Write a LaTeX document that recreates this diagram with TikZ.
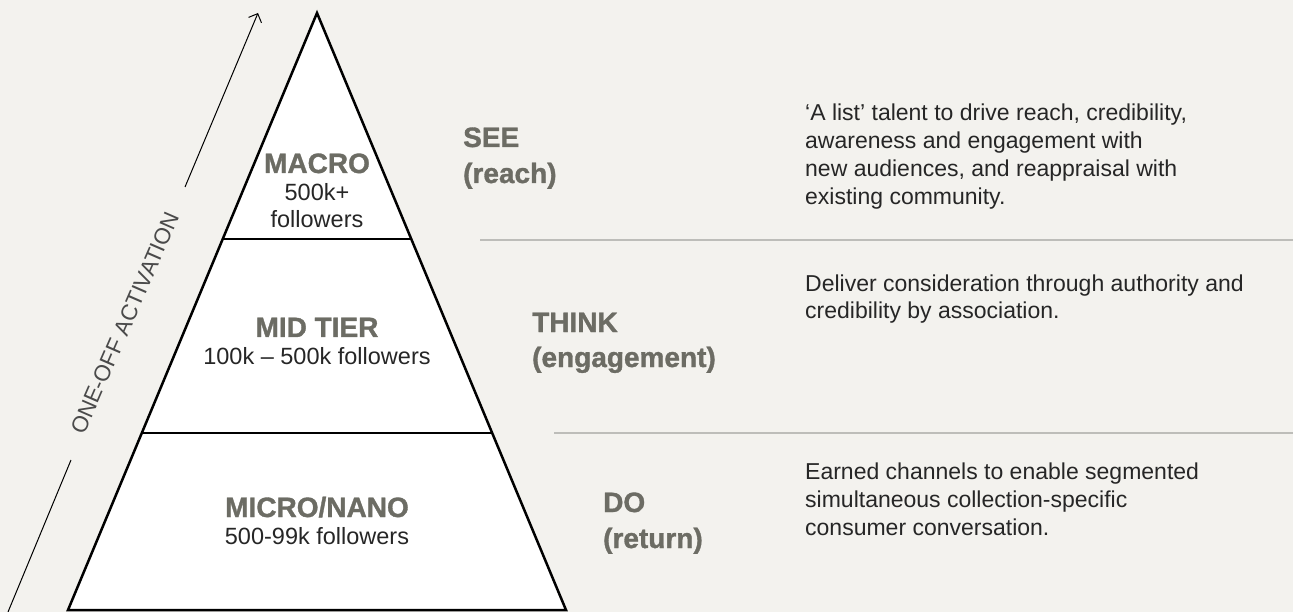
\documentclass[tikz,border=0pt]{standalone}
\usepackage{fontspec}
\setmainfont{Liberation Sans}
\newfontfamily\heavyfont{Liberation Sans}[BoldFeatures={FakeBold=1.2}]
\usetikzlibrary{arrows.meta,calc}
\definecolor{bgc}{HTML}{F3F2EE}
\definecolor{labc}{HTML}{6C6C64}
\definecolor{txtc}{HTML}{262626}
\definecolor{sepc}{HTML}{BDBDB9}
\definecolor{actc}{HTML}{4A4A4A}
\begin{document}
\begin{tikzpicture}[x=1pt,y=-1pt,
  heavy/.style={font=\heavyfont\bfseries\fontsize{28}{35}\selectfont, text=labc, inner sep=0pt},
  tiersub/.style={font=\fontsize{23.5}{27}\selectfont, text=txtc, inner sep=0pt, align=center, anchor=base},
  desc/.style={font=\fontsize{23}{28}\selectfont, text=txtc, inner sep=0pt, align=left, anchor=base west},
  outline/.style={line width=2.5pt, line join=miter},
  divider/.style={line width=1.6pt},
  sepline/.style={draw=sepc, line width=1.5pt},
  thinarrow/.style={line width=1pt, -{Straight Barb[length=7pt,width=14pt]}}
]
\useasboundingbox[fill=bgc] (0,0) rectangle (1293,612);

% pyramid
\coordinate (A) at (317,13);
\coordinate (BL) at (68,610);
\coordinate (BR) at (566,610);
\filldraw[fill=white, outline] (A) -- (BR) -- (BL) -- cycle;
\coordinate (L1) at ($(A)!0.3786!(BL)$);
\coordinate (R1) at ($(A)!0.3786!(BR)$);
\coordinate (L2) at ($(A)!0.7035!(BL)$);
\coordinate (R2) at ($(A)!0.7035!(BR)$);
\draw[divider] (L1) -- (R1);
\draw[divider] (L2) -- (R2);

% tier labels
\node[heavy, anchor=base] (macro) at (317,173) {MACRO};
\node[tiersub] (macrof) at (317,228) {500k+\\followers};
\node[heavy, anchor=base] (mid) at (317,337) {MID TIER};
\node[tiersub] (midf) at (317,364) {100k – 500k followers};
\node[heavy, anchor=base] (micro) at (317,517) {MICRO/NANO};
\node[tiersub] (microf) at (317,544) {500-99k followers};

% activation arrow
\coordinate (lowE) at (8,612);
\coordinate (lowS) at (71,460);
\coordinate (upS) at (185,187);
\coordinate (upE) at (258,13);
\node[font=\fontsize{22.5}{23}\selectfont, text=actc, rotate=66.5, inner sep=0pt] (act) at (125,323) {ONE-OFF ACTIVATION};
\draw[line width=1pt] (lowS) -- (lowE);
\draw[thinarrow] (upS) -- (upE);

% stage labels
\node[heavy, anchor=base west] (see) at (463,147) {SEE};
\node[heavy, anchor=base west] (reach) at (463,183) {(reach)};
\node[heavy, anchor=base west] (think) at (532,332) {THINK};
\node[heavy, anchor=base west] (eng) at (532,367) {(engagement)};
\node[heavy, anchor=base west] (do) at (603,512) {DO};
\node[heavy, anchor=base west] (ret) at (603,548) {(return)};

% separators
\coordinate (s1a) at (480,240);
\coordinate (s1b) at (1293,240);
\coordinate (s2a) at (554,433);
\coordinate (s2b) at (1293,433);
\draw[sepline] (s1a) -- (s1b);
\draw[sepline] (s2a) -- (s2b);

% descriptions
\node[desc] (d1) at (805,205) {‘A list’ talent to drive reach, credibility,\\awareness and engagement with\\new audiences, and reappraisal with\\existing community.};
\node[desc] (d2) at (805,319) {Deliver consideration through authority and\\credibility by association.};
\node[desc] (d3) at (805,535) {Earned channels to enable segmented\\simultaneous collection-specific\\consumer conversation.};
\end{tikzpicture}
\end{document}
